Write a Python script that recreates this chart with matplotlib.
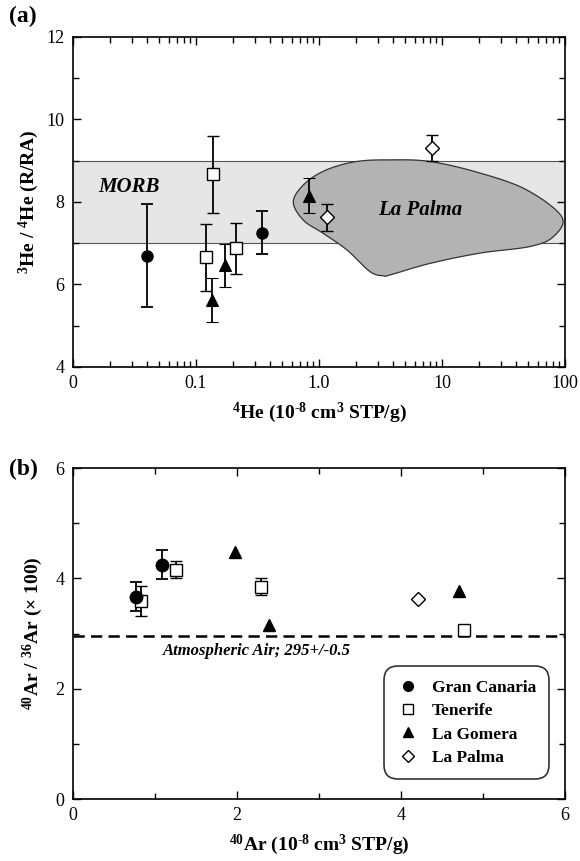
import numpy as np
import matplotlib
matplotlib.use('Agg')
import matplotlib.pyplot as plt
from matplotlib.lines import Line2D
from matplotlib.ticker import LogLocator, NullFormatter, FixedLocator, MultipleLocator

plt.rcParams['font.family'] = ['Liberation Serif', 'DejaVu Serif']
plt.rcParams['mathtext.default'] = 'regular'

# ---- panel (a): 4He vs 3He/4He ----
gc_he = [0.040, 0.346]
gc_r = [6.70, 7.25]
gc_rerr = [1.25, 0.52]

tf_he = [0.138, 0.120, 0.210]
tf_r = [8.67, 6.66, 6.88]
tf_rerr = [0.94, 0.81, 0.62]

lg_he = [0.134, 0.171, 0.83]
lg_r = [5.62, 6.47, 8.15]
lg_rerr = [0.53, 0.52, 0.43]

lp_he = [1.17, 8.3]
lp_r = [7.63, 9.31]
lp_rerr = [0.33, 0.31]

morb_lo, morb_hi = 7.0, 9.0

# outline of the La Palma field (He, R/RA)
lpf_he = [0.618, 0.769, 1.155, 2.02, 3.78, 7.98, 20.4, 48.9, 94.0, 80.4,
          51.9, 20.4, 7.98, 3.78, 3.33, 2.60, 1.68, 1.08, 0.745]
lpf_r = [8.01, 8.45, 8.78, 8.98, 9.02, 8.98, 8.70, 8.29, 7.64, 7.16,
         6.92, 6.76, 6.51, 6.23, 6.21, 6.31, 6.84, 7.24, 7.56]

# ---- panel (b): 40Ar vs 40Ar/36Ar ----
gc_ar = [0.765, 1.09]
gc_ratio = [3.67, 4.25]
gc_ratio_err = [0.27, 0.26]

tf_ar = [0.83, 1.26, 2.29, 4.77]
tf_ratio = [3.59, 4.16, 3.85, 3.07]
tf_ratio_err = [0.27, 0.15, 0.16, 0.0]

lg_ar = [1.98, 2.39, 4.71]
lg_ratio = [4.48, 3.15, 3.77]

lp_ar = [4.21]
lp_ratio = [3.63]

atm_ratio = 2.955

legend_names = ['Gran Canaria', 'Tenerife', 'La Gomera', 'La Palma']


def smooth_closed(xs, ys, n=20):
    # Catmull-Rom through the outline vertices, closed
    p = np.column_stack([xs, ys])
    m = len(p)
    out = []
    for i in range(m):
        p0, p1, p2, p3 = p[i - 1], p[i], p[(i + 1) % m], p[(i + 2) % m]
        for t in np.linspace(0, 1, n, endpoint=False):
            t2, t3 = t * t, t * t * t
            out.append(0.5 * ((2 * p1) + (-p0 + p2) * t +
                              (2 * p0 - 5 * p1 + 4 * p2 - p3) * t2 +
                              (-p0 + 3 * p1 - 3 * p2 + p3) * t3))
    out = np.array(out)
    return out[:, 0], out[:, 1]


def style_axes(ax):
    ax.tick_params(which='both', direction='in', top=True, right=True,
                   labelsize=13, width=1, pad=6)
    ax.tick_params(which='major', length=6)
    ax.tick_params(which='minor', length=4)
    for s in ax.spines.values():
        s.set_linewidth(1.2)


fig = plt.figure(figsize=(5.8, 8.61), dpi=100)
ax1 = fig.add_axes([0.1259, 0.5738, 0.8483, 0.3833])
ax2 = fig.add_axes([0.1259, 0.0720, 0.8483, 0.3844])

ebkw = dict(ls='none', ecolor='black', elinewidth=1.3, capsize=4.5,
            capthick=1.3, zorder=5)
hy = '\u2010'  # plain hyphen, so mathtext does not turn it into a minus

# --- (a)
ax1.axhspan(morb_lo, morb_hi, facecolor='#e6e6e6', edgecolor='none', zorder=0)
ax1.axhline(morb_lo, color='#555555', lw=0.8, zorder=1)
ax1.axhline(morb_hi, color='#555555', lw=0.8, zorder=1)

sx, sy = smooth_closed(np.log10(lpf_he), lpf_r)
ax1.fill(10 ** sx, sy, facecolor='#b3b3b3', edgecolor='#333333', lw=0.9, zorder=2)

ax1.errorbar(gc_he, gc_r, yerr=gc_rerr, marker='o', ms=8, mfc='black',
             mec='black', **ebkw)
ax1.errorbar(tf_he, tf_r, yerr=tf_rerr, marker='s', ms=8.5, mfc='white',
             mec='black', mew=1, **ebkw)
ax1.errorbar(lg_he, lg_r, yerr=lg_rerr, marker='^', ms=9, mfc='black',
             mec='black', mew=0.8, **ebkw)
ax1.errorbar(lp_he, lp_r, yerr=lp_rerr, marker='D', ms=7, mfc='white',
             mec='black', mew=1, **ebkw)

ax1.text(0.016, 8.36, 'MORB', fontsize=15, fontweight='bold', style='italic',
         va='center', ha='left', zorder=6)
ax1.text(6.6, 7.81, 'La Palma', fontsize=15, fontweight='bold', style='italic',
         va='center', ha='center', zorder=6)

ax1.set_xscale('log')
ax1.set_xlim(0.01, 100)
ax1.set_ylim(4, 12)
ax1.xaxis.set_major_locator(FixedLocator([0.01, 0.1, 1, 10, 100]))
ax1.set_xticklabels(['0', '0.1', '1.0', '10', '100'])
ax1.xaxis.set_minor_locator(LogLocator(base=10, subs=np.arange(2, 10)))
ax1.xaxis.set_minor_formatter(NullFormatter())
ax1.yaxis.set_major_locator(MultipleLocator(2))
ax1.yaxis.set_minor_locator(MultipleLocator(1))
style_axes(ax1)
ax1.set_xlabel('$^{4}$He (10$^{' + hy + '8}$ cm$^{3}$ STP/g)',
               fontsize=14, fontweight='bold', labelpad=6)
ax1.set_ylabel(r'$^{3}$He / $^{4}$He (R/RA)', fontsize=14, fontweight='bold',
               labelpad=4)
fig.text(0.015, 0.981, '(a)', fontsize=17, fontweight='bold', va='center')

# --- (b)
ax2.axhline(atm_ratio, color='black', lw=1.8, ls=(0, (4.5, 2.5)), zorder=1)
ax2.text(1.1, atm_ratio - 0.13, 'Atmospheric Air; 295+/-0.5', fontsize=12,
         fontweight='bold', style='italic', va='top', ha='left')

ax2.errorbar(tf_ar, tf_ratio, yerr=tf_ratio_err, marker='s', ms=8.5,
             mfc='white', mec='black', mew=1, **ebkw)
ax2.errorbar(gc_ar, gc_ratio, yerr=gc_ratio_err, marker='o', ms=9,
             mfc='black', mec='black', **ebkw)
ax2.plot(lg_ar, lg_ratio, ls='none', marker='^', ms=9, mfc='black',
         mec='black', zorder=5)
ax2.plot(lp_ar, lp_ratio, ls='none', marker='D', ms=7, mfc='white',
         mec='black', mew=1, zorder=5)

ax2.set_xlim(0, 6)
ax2.set_ylim(0, 6)
ax2.xaxis.set_major_locator(MultipleLocator(2))
ax2.xaxis.set_minor_locator(MultipleLocator(1))
ax2.yaxis.set_major_locator(MultipleLocator(2))
ax2.yaxis.set_minor_locator(MultipleLocator(1))
style_axes(ax2)
ax2.set_xlabel('$^{40}$Ar (10$^{' + hy + '8}$ cm$^{3}$ STP/g)', fontsize=14,
               fontweight='bold', labelpad=6)
ax2.set_ylabel(r'$^{40}$Ar / $^{36}$Ar (× 100)', fontsize=14,
               fontweight='bold', labelpad=8)
fig.text(0.015, 0.455, '(b)', fontsize=17, fontweight='bold', va='center')

handles = [Line2D([], [], ls='none', marker='o', ms=7, mfc='black', mec='black'),
           Line2D([], [], ls='none', marker='s', ms=7, mfc='white', mec='black'),
           Line2D([], [], ls='none', marker='^', ms=7, mfc='black', mec='black'),
           Line2D([], [], ls='none', marker='D', ms=6, mfc='white', mec='black')]
leg = ax2.legend(handles, legend_names, loc='lower right',
                 bbox_to_anchor=(0.975, 0.05),
                 prop={'weight': 'bold', 'size': 12.5}, frameon=True,
                 fancybox=True, handlelength=1.2, handletextpad=0.8,
                 labelspacing=0.42, borderpad=0.45)
leg.get_frame().set_edgecolor('black')
leg.get_frame().set_linewidth(1.2)
leg.get_frame().set_boxstyle('round,pad=0.3,rounding_size=0.8')

fig.savefig('out.png', dpi=100)
